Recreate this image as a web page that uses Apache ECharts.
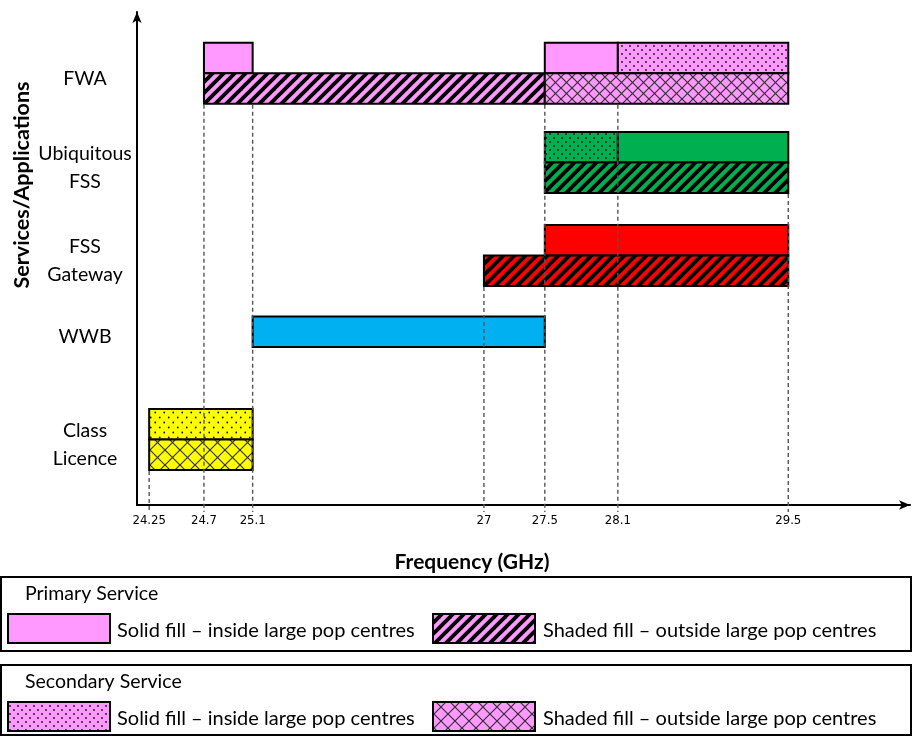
<!DOCTYPE html>
<html><head><meta charset="utf-8">
<script src="https://cdn.jsdelivr.net/npm/echarts@6/dist/echarts.min.js"></script>
<style>html,body{margin:0;padding:0;background:#fff}#c{width:916px;height:738px}</style>
</head><body><div id="c"></div>
<script>
// ---- data ----
const freqTicks = [24.25, 24.7, 25.1, 27, 27.5, 28.1, 29.5];
const services = ['FWA', 'Ubiquitous\nFSS', 'FSS\nGateway', 'WWB', 'Class\nLicence'];
const serviceBase = [13.15, 10.23, 7.18, 5.18, 1.15];   // lower edge of each service's band stack
const serviceRows = [2, 2, 2, 1, 2];
// [service index, level (0 lower / 1 upper), start GHz, end GHz, fill]
const bands = [
  [0, 1, 24.7, 25.1, 'pinkSolid'],
  [0, 1, 27.5, 28.1, 'pinkSolid'],
  [0, 1, 28.1, 29.5, 'pinkDots'],
  [0, 0, 24.7, 27.5, 'pinkStripes'],
  [0, 0, 27.5, 29.5, 'pinkCross'],
  [1, 1, 27.5, 28.1, 'greenDots'],
  [1, 1, 28.1, 29.5, 'greenSolid'],
  [1, 0, 27.5, 29.5, 'greenStripes'],
  [2, 1, 27.5, 29.5, 'redSolid'],
  [2, 0, 27.0, 29.5, 'redStripes'],
  [3, 0, 25.1, 27.5, 'blueSolid'],
  [4, 1, 24.25, 25.1, 'yellowDots'],
  [4, 0, 24.25, 25.1, 'yellowCross']
];
// guide lines: [frequency, service whose stack they hang from]
const guides = [[24.25, 4], [24.7, 0], [25.1, 0], [27, 2], [27.5, 0], [28.1, 0], [29.5, 1]];
const legendGroups = ['Primary Service', 'Secondary Service'];
const legendTexts = ['Solid fill \u2013 inside large pop centres', 'Shaded fill \u2013 outside large pop centres'];

// ---- patterns ----
const COLORS = {pink: '#FF99FF', green: '#00B050', red: '#FF0000', blue: '#00B0F0', yellow: '#FFFF00'};
function makeCanvas(w, h, bg) {
  const c = document.createElement('canvas'); c.width = w; c.height = h;
  const ctx = c.getContext('2d'); ctx.fillStyle = bg; ctx.fillRect(0, 0, w, h); return [c, ctx];
}
function stripes(bg, s) {
  const [c, ctx] = makeCanvas(s, s, bg);
  ctx.strokeStyle = '#000'; ctx.lineWidth = 3.8; ctx.lineCap = 'square';
  [[-s, s, s, -s], [0, s, s, 0], [0, 2 * s, 2 * s, 0]].forEach(l => {
    ctx.beginPath(); ctx.moveTo(l[0], l[1]); ctx.lineTo(l[2], l[3]); ctx.stroke();
  });
  return {image: c, repeat: 'repeat'};
}
function cross(bg, s) {
  const [c, ctx] = makeCanvas(s, s, bg);
  ctx.strokeStyle = '#333'; ctx.lineWidth = 1.2;
  [[0, s, s, 0], [-s / 2, s / 2, s / 2, -s / 2], [s / 2, 3 * s / 2, 3 * s / 2, s / 2],
   [0, 0, s, s], [-s / 2, s / 2, s / 2, 3 * s / 2], [s / 2, -s / 2, 3 * s / 2, s / 2]].forEach(l => {
    ctx.beginPath(); ctx.moveTo(l[0], l[1]); ctx.lineTo(l[2], l[3]); ctx.stroke();
  });
  return {image: c, repeat: 'repeat'};
}
function dots(bg, w, h) {
  const [c, ctx] = makeCanvas(w, h, bg);
  ctx.fillStyle = '#111';
  [[w / 4, h / 4], [3 * w / 4, 3 * h / 4]].forEach(p => {
    ctx.beginPath(); ctx.arc(p[0], p[1], 0.9, 0, Math.PI * 2); ctx.fill();
  });
  return {image: c, repeat: 'repeat'};
}
const FILLS = {
  pinkSolid: COLORS.pink, pinkDots: dots(COLORS.pink, 8, 8), pinkStripes: stripes(COLORS.pink, 11), pinkCross: cross(COLORS.pink, 11),
  greenSolid: COLORS.green, greenDots: dots(COLORS.green, 8, 8), greenStripes: stripes(COLORS.green, 11),
  redSolid: COLORS.red, redStripes: stripes(COLORS.red, 11),
  blueSolid: COLORS.blue,
  yellowDots: dots(COLORS.yellow, 9, 10), yellowCross: cross(COLORS.yellow, 15)
};

const X_MIN = 24.15, X_MAX = 30.5, Y_MAX = 16.16;
const FONT = 'Lato, "Open Sans", sans-serif';

const chart = echarts.init(document.getElementById('c'));

function legendBox(top, title, fills) {
  const h = top === 577 ? 74 : 70;
  const els = [
    {type: 'rect', shape: {x: 1, y: top, width: 910, height: h}, style: {fill: '#fff', stroke: '#000', lineWidth: 2}},
    {type: 'text', x: 25, y: top + 17, style: {text: title, font: '19.5px ' + FONT, fill: '#000', verticalAlign: 'middle'}}
  ];
  const sy = top + 37;
  [[8, fills[0], 117, legendTexts[0]], [433, fills[1], 543, legendTexts[1]]].forEach(a => {
    els.push({type: 'rect', shape: {x: a[0], y: sy, width: 102, height: 29}, style: {fill: a[1], stroke: '#000', lineWidth: 2}});
    els.push({type: 'text', x: a[2], y: sy + 17, style: {text: a[3], font: '20px ' + FONT, fill: '#000', verticalAlign: 'middle'}});
  });
  return els;
}

chart.setOption({
  animation: false,
  grid: {left: 137, right: 6, top: 12, bottom: 233},
  xAxis: {
    type: 'value', min: X_MIN, max: X_MAX,
    axisLine: {show: true, onZero: false, symbol: ['none', 'arrow'], symbolSize: [7, 11], lineStyle: {color: '#000', width: 2}},
    axisTick: {show: false}, splitLine: {show: false},
    axisLabel: {customValues: freqTicks, margin: 9, color: '#000', fontSize: 13, fontFamily: '"DejaVu Sans Condensed", "Liberation Sans Narrow", sans-serif',
      formatter: v => String(v)}
  },
  yAxis: {
    type: 'value', min: 0, max: Y_MAX,
    axisLine: {show: true, onZero: false, symbol: ['none', 'arrow'], symbolSize: [7, 11], lineStyle: {color: '#000', width: 2}},
    axisTick: {show: false}, splitLine: {show: false}, axisLabel: {show: false}
  },
  series: [
    {
      type: 'custom', z: 2, data: bands,
      renderItem: (params, api) => {
        const b = bands[params.dataIndex];
        const base = serviceBase[b[0]] + b[1];
        const p0 = api.coord([b[2], base]);
        const p1 = api.coord([b[3], base + 1]);
        return {type: 'rect', shape: {x: p0[0], y: p1[1], width: p1[0] - p0[0], height: p0[1] - p1[1]},
          style: {fill: FILLS[b[4]], stroke: '#000', lineWidth: 2}};
      }
    },
    {
      type: 'custom', z: 3, data: guides,
      renderItem: (params, api) => {
        const g = guides[params.dataIndex];
        const top = api.coord([g[0], serviceBase[g[1]]]);
        const bot = api.coord([g[0], 0]);
        return {type: 'line', shape: {x1: top[0], y1: top[1] + 1, x2: bot[0], y2: bot[1] + 7},
          style: {stroke: '#555', lineWidth: 1.4, lineDash: [4, 3]}};
      }
    },
    {
      type: 'custom', z: 3, data: services,
      renderItem: (params, api) => {
        const i = params.dataIndex;
        const p = api.coord([X_MIN, serviceBase[i] + serviceRows[i] / 2]);
        return {type: 'text', x: p[0] - 52, y: p[1] + 5,
          style: {text: services[i], font: '19.5px ' + FONT, fill: '#000', align: 'center', verticalAlign: 'middle', lineHeight: 28}};
      }
    }
  ],
  graphic: [
    {type: 'text', x: 472, y: 562, style: {text: 'Frequency (GHz)', font: 'bold 21px ' + FONT, fill: '#000', align: 'center', verticalAlign: 'middle'}},
    {type: 'text', x: 22, y: 185, rotation: Math.PI / 2, style: {text: 'Services/Applications', font: 'bold 21.5px ' + FONT, fill: '#000', align: 'center', verticalAlign: 'middle'}}
  ].concat(legendBox(577, legendGroups[0], [FILLS.pinkSolid, FILLS.pinkStripes]))
   .concat(legendBox(665, legendGroups[1], [FILLS.pinkDots, cross(COLORS.pink, 14)]))
});
</script></body></html>
